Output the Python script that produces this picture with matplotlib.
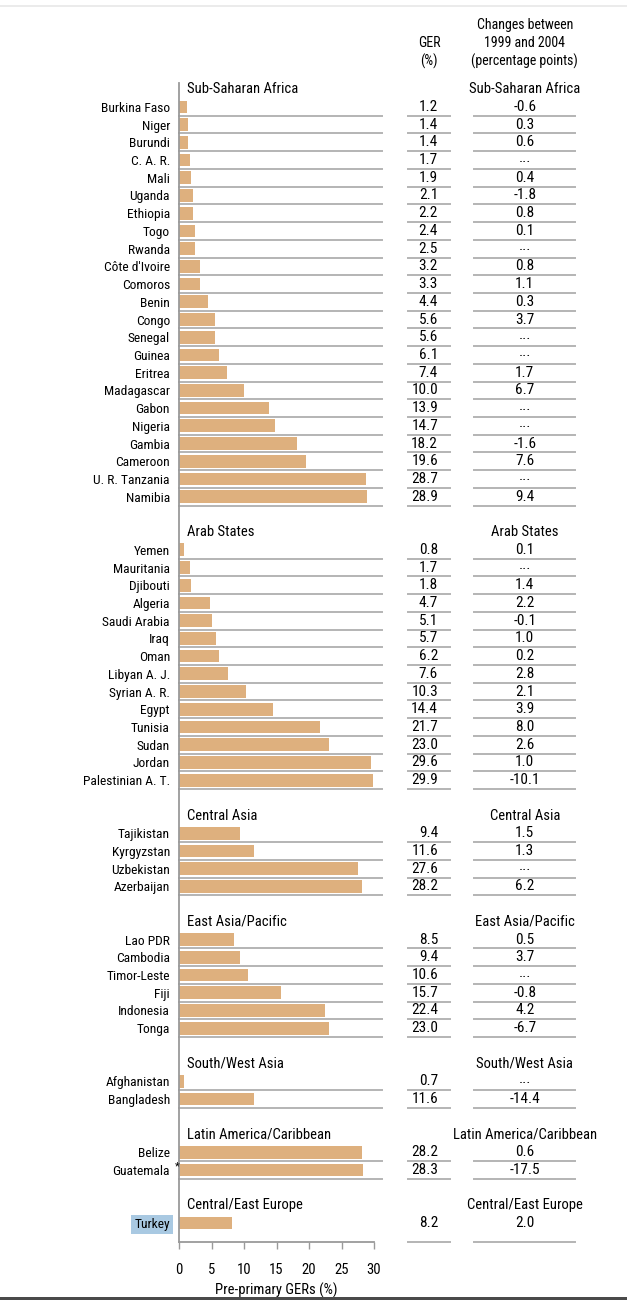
import matplotlib.pyplot as plt
from matplotlib.lines import Line2D
from matplotlib.patches import Rectangle

# data, grouped by region
regions = ['Sub-Saharan Africa', 'Arab States', 'Central Asia', 'East Asia/Pacific',
           'South/West Asia', 'Latin America/Caribbean', 'Central/East Europe']

countries = [
    ['Burkina Faso', 'Niger', 'Burundi', 'C. A. R.', 'Mali', 'Uganda', 'Ethiopia', 'Togo',
     'Rwanda', "Côte d'Ivoire", 'Comoros', 'Benin', 'Congo', 'Senegal', 'Guinea', 'Eritrea',
     'Madagascar', 'Gabon', 'Nigeria', 'Gambia', 'Cameroon', 'U. R. Tanzania', 'Namibia'],
    ['Yemen', 'Mauritania', 'Djibouti', 'Algeria', 'Saudi Arabia', 'Iraq', 'Oman',
     'Libyan A. J.', 'Syrian A. R.', 'Egypt', 'Tunisia', 'Sudan', 'Jordan', 'Palestinian A. T.'],
    ['Tajikistan', 'Kyrgyzstan', 'Uzbekistan', 'Azerbaijan'],
    ['Lao PDR', 'Cambodia', 'Timor-Leste', 'Fiji', 'Indonesia', 'Tonga'],
    ['Afghanistan', 'Bangladesh'],
    ['Belize', 'Guatemala'],
    ['Turkey'],
]

ger = [
    [1.2, 1.4, 1.4, 1.7, 1.9, 2.1, 2.2, 2.4, 2.5, 3.2, 3.3, 4.4, 5.6, 5.6, 6.1, 7.4,
     10.0, 13.9, 14.7, 18.2, 19.6, 28.7, 28.9],
    [0.8, 1.7, 1.8, 4.7, 5.1, 5.7, 6.2, 7.6, 10.3, 14.4, 21.7, 23.0, 29.6, 29.9],
    [9.4, 11.6, 27.6, 28.2],
    [8.5, 9.4, 10.6, 15.7, 22.4, 23.0],
    [0.7, 11.6],
    [28.2, 28.3],
    [8.2],
]

change = [
    ['-0.6', '0.3', '0.6', '...', '0.4', '-1.8', '0.8', '0.1', '...', '0.8', '1.1', '0.3',
     '3.7', '...', '...', '1.7', '6.7', '...', '...', '-1.6', '7.6', '...', '9.4'],
    ['0.1', '...', '1.4', '2.2', '-0.1', '1.0', '0.2', '2.8', '2.1', '3.9', '8.0', '2.6',
     '1.0', '-10.1'],
    ['1.5', '1.3', '...', '6.2'],
    ['0.5', '3.7', '...', '-0.8', '4.2', '-6.7'],
    ['...', '-14.4'],
    ['0.6', '-17.5'],
    ['2.0'],
]

footnote_country = 'Guatemala'
highlight_country = 'Turkey'

plt.rcParams['font.family'] = ['Roboto Condensed', 'Liberation Sans', 'DejaVu Sans']

bar_color = '#deb07e'
line_color = '#b4b4b4'
axis_color = '#9a9a9a'

fig = plt.figure(figsize=(6.27, 13.0), dpi=100)
ax = fig.add_axes([179 / 627, 58 / 1300, 195 / 627, 1159 / 1300])

# row positions: header, then countries, then a blank row before next header
header_y = []
row_y, row_lab, row_val, row_chg = [], [], [], []
pos = -1
for reg, cs, gs, ch in zip(regions, countries, ger, change):
    header_y.append(pos)
    for c, g, d in zip(cs, gs, ch):
        pos += 1
        row_y.append(pos)
        row_lab.append(c)
        row_val.append(g)
        row_chg.append(d)
    pos += 2

y_bottom = 64.07
ax.set_xlim(0, 30)
ax.set_ylim(y_bottom, -1.35)

ax.barh(row_y, row_val, height=0.72, color=bar_color, zorder=2)

# separator lines under each row
for i, y in enumerate(row_y):
    last = i == len(row_y) - 1
    ly = y_bottom if last else y + 0.5
    if not last:
        ax.plot([0, 31.2], [ly, ly], color=line_color, lw=1.4, clip_on=False, zorder=1)
    ax.plot([35.2, 41.7], [ly, ly], color=line_color, lw=1.4, clip_on=False)
    ax.plot([45.4, 60.9], [ly, ly], color=line_color, lw=1.4, clip_on=False)
    ax.text(39.85, y, f'{row_val[i]:.1f}', ha='right', va='center', fontsize=11)
    # the "no data" dots sit a little raised in the original
    dy = -0.14 if row_chg[i] == '...' else 0
    ax.text(53.2, y + dy, row_chg[i], ha='center', va='center', fontsize=11)

for reg, y in zip(regions, header_y):
    ax.text(1.2, y, reg, ha='left', va='center', fontsize=10.5)
    ax.text(53.2, y, reg, ha='center', va='center', fontsize=10.5)

# column headings
ax.text(38.5, -3.07, 'GER\n(%)', ha='center', va='center', fontsize=10, linespacing=1.3)
ax.text(53.2, -3.58, 'Changes between\n1999 and 2004\n(percentage points)',
        ha='center', va='center', fontsize=10, linespacing=1.3)

ax.set_yticks(row_y, labels=row_lab, fontsize=9.7)
ax.tick_params(axis='y', length=0, pad=6.5)
for lab in ax.get_yticklabels():
    if lab.get_text() == highlight_country:
        lab.set_bbox(dict(facecolor='#a9c9e2', edgecolor='none', pad=2.2))
gy = row_y[row_lab.index(footnote_country)]
ax.text(-0.3, gy - 0.2, '*', ha='center', va='center', fontsize=8)

ax.set_xticks(range(0, 31, 5))
ax.tick_params(axis='x', length=5, width=1, color=axis_color, labelsize=10.5, pad=10)
ax.set_xlabel('Pre-primary GERs (%)', fontsize=10.5, labelpad=4)

for s in ['top', 'right']:
    ax.spines[s].set_visible(False)
for s in ['left', 'bottom']:
    ax.spines[s].set_color(axis_color)
    ax.spines[s].set_linewidth(1.3)

# page edges of the original screenshot
fig.add_artist(Line2D([0, 1], [1 - 6 / 1300] * 2, color='#e8e8e8', lw=1.2))
fig.add_artist(Rectangle((0, 0), 1, 3 / 1300, transform=fig.transFigure,
                         color='#4a4a4a', lw=0))

fig.savefig('out.png', dpi=100)
